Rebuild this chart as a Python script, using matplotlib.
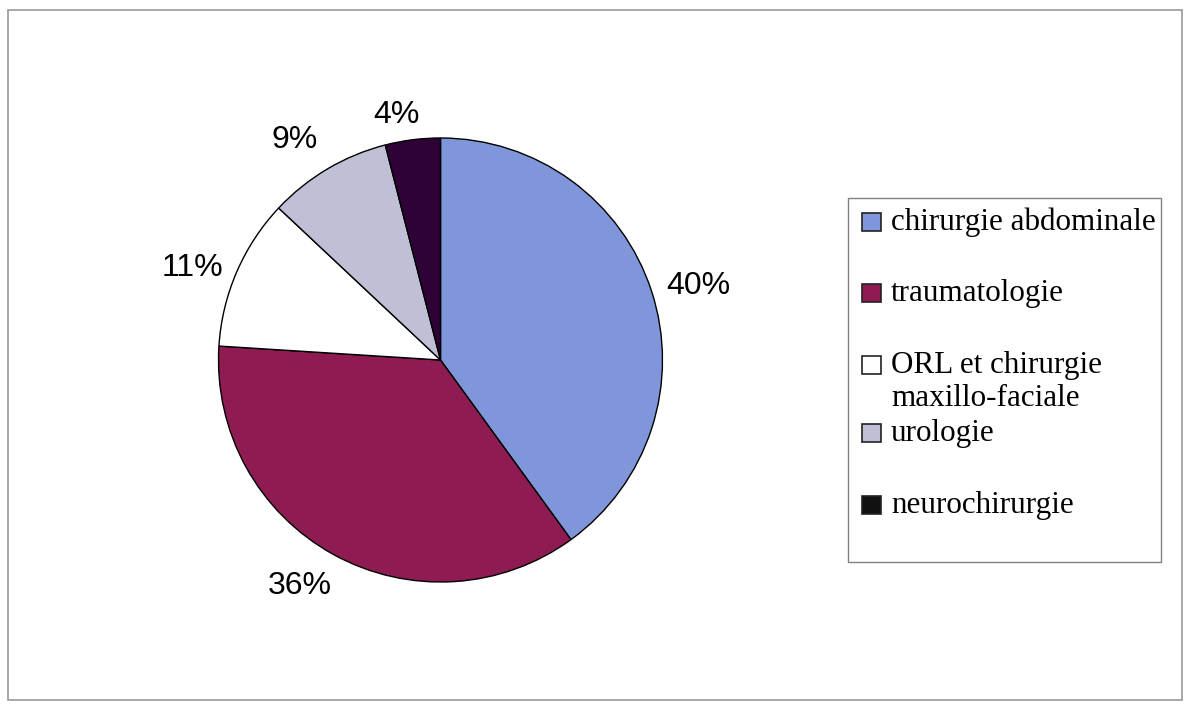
import matplotlib
matplotlib.use("Agg")
import numpy as np
import matplotlib.pyplot as plt
from matplotlib.patches import Rectangle

# data
categories = ["chirurgie abdominale", "traumatologie", "ORL et chirurgie\nmaxillo-faciale",
              "urologie", "neurochirurgie"]
shares = [40, 36, 11, 9, 4]
colors = ["#7f96da", "#8e1c52", "#ffffff", "#bfbfd6", "#2e0236"]
legend_colors = ["#7f96da", "#8e1c52", "#ffffff", "#bfbfd6", "#111111"]

W, H = 1190, 708
fig = plt.figure(figsize=(W / 100, H / 100), dpi=100)

# outer frame
fig.patches.append(Rectangle((8 / W, 8 / H), 1174 / W, 690 / H, transform=fig.transFigure,
                             fill=False, edgecolor="#9a9a9a", linewidth=1.2))

# pie axes: center (440, 360) in picture pixels, radius 222
cx, cy, r = 440.5, 360, 222
ax = fig.add_axes([(cx - r) / W, (H - cy - r) / H, 2 * r / W, 2 * r / H])
wedges, texts, autotexts = ax.pie(
    shares, colors=colors, startangle=90, counterclock=False,
    autopct="%1.0f%%", pctdistance=1.2, radius=1,
    wedgeprops=dict(edgecolor="black", linewidth=1.0))

# nudge labels a little like the original (small slices sit closer)
label_dist = [1.21, 1.2, 1.19, 1.19, 1.12]
label_turn = [-2, -3, 3, 3, 3]
for w, t, d, turn in zip(wedges, autotexts, label_dist, label_turn):
    a = np.deg2rad((w.theta1 + w.theta2) / 2 + turn)
    t.set_position((d * np.cos(a), d * np.sin(a)))
    t.set_fontsize(23)
    t.set_fontfamily("Liberation Sans")
    t.set_color("black")
ax.set_xlim(-1, 1)
ax.set_ylim(-1, 1)
ax.set_aspect("equal")
ax.axis("off")

# legend box drawn by hand so the square sits on the first line of a two-line label
fig.patches.append(Rectangle((848 / W, (H - 562) / H), 313 / W, 364 / H, transform=fig.transFigure,
                             fill=False, edgecolor="#808080", linewidth=1.0))
rows_y = [222, 293, 365, 433, 505]
for name, col, y in zip(categories, legend_colors, rows_y):
    fig.patches.append(Rectangle((862 / W, (H - y - 9) / H), 19 / W, 18 / H, transform=fig.transFigure,
                                 facecolor=col, edgecolor="#222222", linewidth=1.2))
    for i, line in enumerate(name.split("\n")):
        fig.text(891 / W, (H - y - 8 - 33 * i) / H, line, transform=fig.transFigure,
                 fontsize=22.4, family="Liberation Serif", va="baseline", ha="left")

fig.savefig("out.png", dpi=100, facecolor="white")
